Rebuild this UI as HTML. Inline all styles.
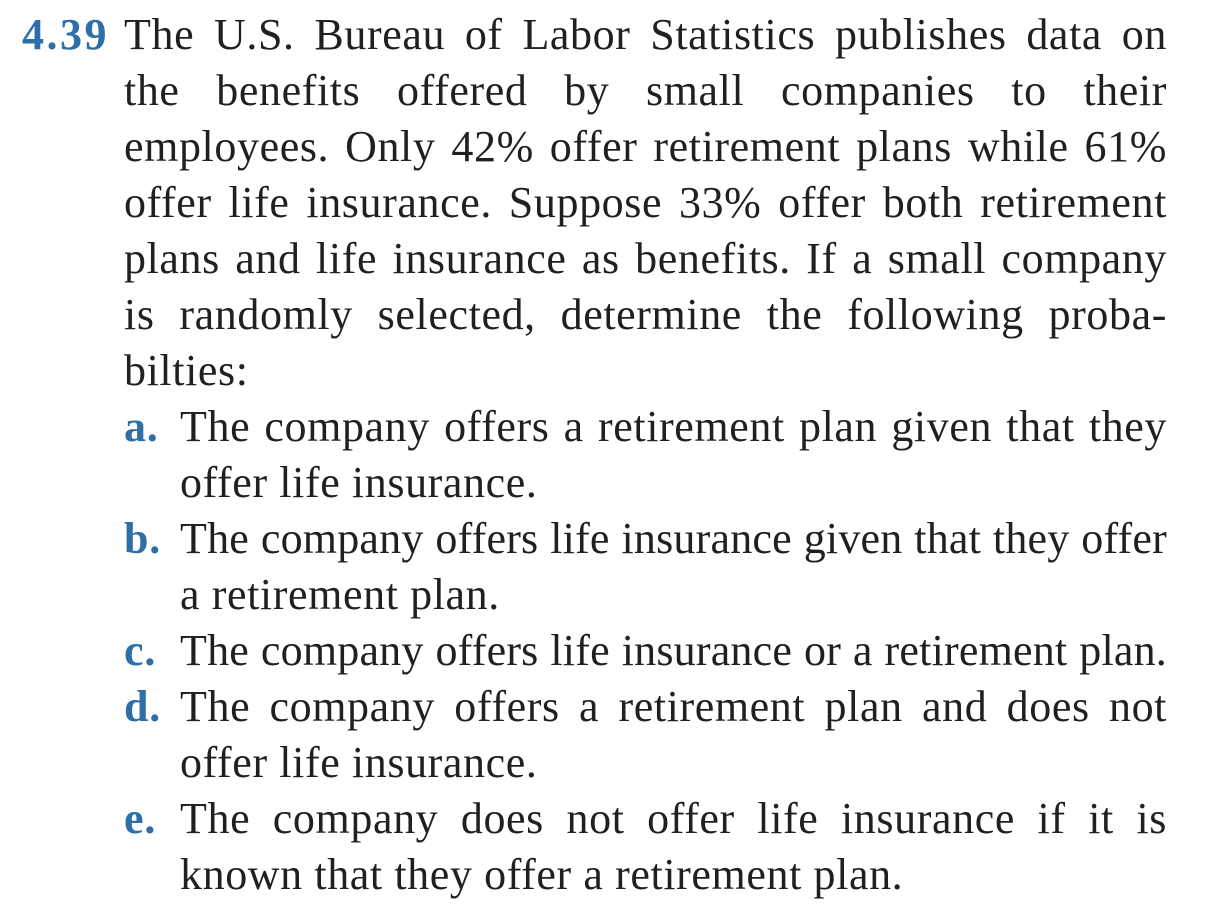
<!DOCTYPE html>
<html><head><meta charset="utf-8">
<style>
html,body{margin:0;padding:0;background:#fff;}
body{width:1214px;height:918px;position:relative;overflow:hidden;font-family:"Liberation Serif",serif;color:#231f20;}
.l{position:absolute;height:56px;line-height:56px;font-size:44px;letter-spacing:0.6px;white-space:nowrap;}
.j{text-align:justify;text-align-last:justify;}
.lab{position:absolute;height:56px;line-height:56px;font-size:44px;letter-spacing:0.8px;font-weight:bold;color:#2f6fa7;}
</style></head>
<body>
<div class="lab" style="left:22px;top:7px;letter-spacing:2.5px">4.39</div>
<div class="l j" style="left:124px;width:1043px;top:7px">The U.S. Bureau of Labor Statistics publishes data on</div>
<div class="l j" style="left:124px;width:1043px;top:63px">the benefits offered by small companies to their</div>
<div class="l j" style="left:124px;width:1043px;top:119px">employees. Only 42% offer retirement plans while 61%</div>
<div class="l j" style="left:124px;width:1043px;top:175px">offer life insurance. Suppose 33% offer both retirement</div>
<div class="l j" style="left:124px;width:1043px;top:231px">plans and life insurance as benefits. If a small company</div>
<div class="l j" style="left:124px;width:1043px;top:287px">is randomly selected, determine the following proba-</div>
<div class="l" style="left:124px;top:343px">bilties:</div>

<div class="lab" style="left:124px;top:399px">a.</div>
<div class="l j" style="left:180px;width:987px;top:399px">The company offers a retirement plan given that they</div>
<div class="l" style="left:180px;top:455px">offer life insurance.</div>

<div class="lab" style="left:124px;top:511px">b.</div>
<div class="l j" style="left:180px;width:987px;top:511px;letter-spacing:0.2px">The company offers life insurance given that they offer</div>
<div class="l" style="left:180px;top:567px">a retirement plan.</div>

<div class="lab" style="left:124px;top:623px">c.</div>
<div class="l j" style="left:180px;width:987px;top:623px;letter-spacing:0.2px">The company offers life insurance or a retirement plan.</div>

<div class="lab" style="left:124px;top:679px">d.</div>
<div class="l j" style="left:180px;width:987px;top:679px">The company offers a retirement plan and does not</div>
<div class="l" style="left:180px;top:735px">offer life insurance.</div>

<div class="lab" style="left:124px;top:791px">e.</div>
<div class="l j" style="left:180px;width:987px;top:791px">The company does not offer life insurance if it is</div>
<div class="l" style="left:180px;top:847px">known that they offer a retirement plan.</div>
</body></html>
